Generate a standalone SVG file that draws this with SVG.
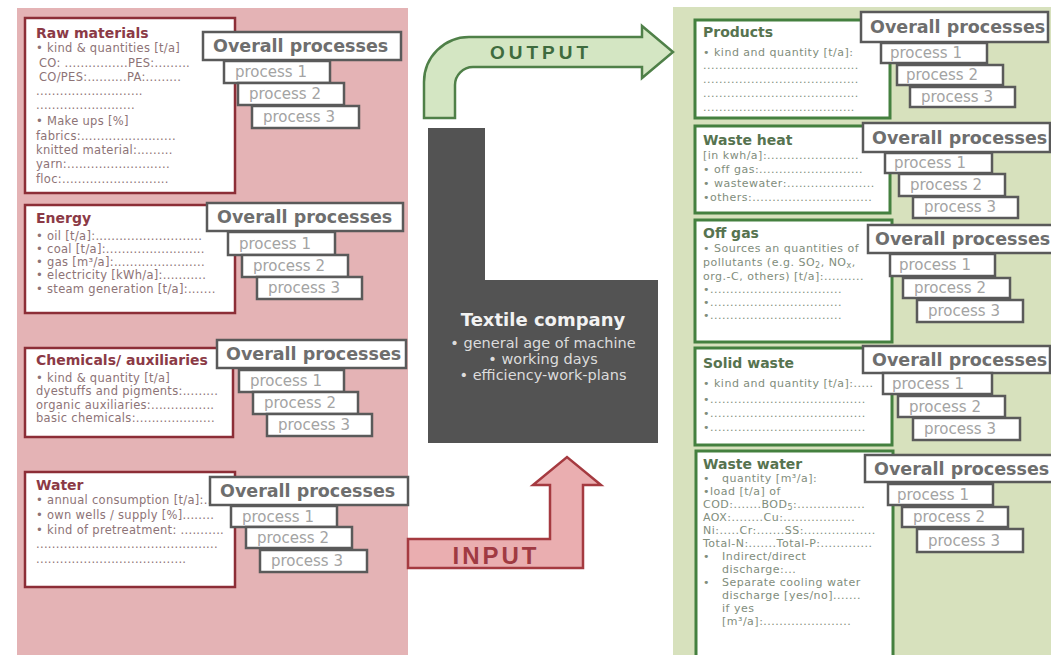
<svg xmlns="http://www.w3.org/2000/svg" width="1051" height="655" viewBox="0 0 1051 655">
<style>
.bg{fill:#fff}
.pk{fill:#e4b3b5}
.gr{fill:#d7e1bd}
.lbox{fill:#fff;stroke:#8c2e37;stroke-width:2.5}
.rbox{fill:#fff;stroke:#44803f;stroke-width:3}
.pb{fill:#fff;stroke:#5a5a5a;stroke-width:2.5}
.ovt{font-family:"DejaVu Sans",sans-serif;font-weight:bold;font-size:17.5px;fill:#6e6e6e}
.prt{font-family:"DejaVu Sans",sans-serif;font-size:15px;fill:#a3a3a3}
.lt{font-family:"DejaVu Sans",sans-serif;font-weight:bold;font-size:14px;fill:#8b3a46}
.rt{font-family:"DejaVu Sans",sans-serif;font-weight:bold;font-size:14px;fill:#56734f}
.lb{font-family:"DejaVu Sans",sans-serif;font-size:11.5px;fill:#8d7376;letter-spacing:0.3px}
.rb{font-family:"DejaVu Sans",sans-serif;font-size:11px;fill:#7f8d7c;letter-spacing:0.5px}
.dark{fill:#535353}
.ct{font-family:"DejaVu Sans",sans-serif;font-weight:bold;font-size:18px;fill:#f2f2f2}
.cb{font-family:"DejaVu Sans",sans-serif;font-size:14.5px;fill:#dcdcdc}
.outA{fill:#d4e6c3;stroke:#4f8048;stroke-width:2.5}
.inA{fill:#eaaeb0;stroke:#a53a40;stroke-width:2.5}
.outT{font-family:"Liberation Sans",sans-serif;font-weight:bold;font-size:19px;fill:#3e6b3e;letter-spacing:4px}
.inT{font-family:"Liberation Sans",sans-serif;font-weight:bold;font-size:24px;fill:#a03a42;letter-spacing:3px}
</style>
<rect class="bg" x="0" y="0" width="1051" height="655"/>
<rect class="pk" x="17" y="8" width="391" height="647"/>
<rect class="gr" x="673" y="7" width="378" height="648"/>

<g id="connectors">
<path class="outA" d="M424,118 V82 A45,45 0 0 1 469,37 H642 V26 L673,52 L642,78 V67 H473 A18,18 0 0 0 455,85 V118 Z"/>
<text class="outT" x="541" y="59" text-anchor="middle">OUTPUT</text>
<path class="inA" d="M408,539 H550 V485 H533 L567,457 L601,485 H583 V568 H408 Z"/>
<text class="inT" x="496" y="564" text-anchor="middle">INPUT</text>
</g>

<g id="textile-company">
<rect class="dark" x="428" y="128" width="57" height="154"/>
<rect class="dark" x="428" y="280" width="230" height="163"/>
<text class="ct" x="543" y="326" text-anchor="middle">Textile company</text>
<text class="cb" x="543" y="348" text-anchor="middle">• general age of machine</text>
<text class="cb" x="543" y="364" text-anchor="middle">• working days</text>
<text class="cb" x="543" y="380" text-anchor="middle">• efficiency-work-plans</text>
</g>

<g id="raw-materials">
<rect class="lbox" x="25" y="18" width="210" height="175"/>
<text class="lt" x="36" y="38">Raw materials</text>
<text class="lb" x="36" y="52">• kind &amp; quantities [t/a]</text>
<text class="lb" x="39" y="67">CO: ................PES:.........</text>
<text class="lb" x="39" y="81">CO/PES:..........PA:.........</text>
<text class="lb" x="36" y="95">...........................</text>
<text class="lb" x="36" y="109">.........................</text>
<text class="lb" x="36" y="125">• Make ups [%]</text>
<text class="lb" x="36" y="140">fabrics:........................</text>
<text class="lb" x="36" y="154">knitted material:.........</text>
<text class="lb" x="36" y="168">yarn:..........................</text>
<text class="lb" x="36" y="183">floc:...........................</text>
<rect class="pb" x="203" y="32" width="198" height="28"/>
<text class="ovt" x="213" y="52">Overall processes</text>
<rect class="pb" x="224" y="61" width="106" height="22"/>
<text class="prt" x="235" y="77">process 1</text>
<rect class="pb" x="238" y="83" width="106" height="22"/>
<text class="prt" x="249" y="99">process 2</text>
<rect class="pb" x="252" y="106" width="107" height="22"/>
<text class="prt" x="263" y="122">process 3</text>
</g>

<g id="energy">
<rect class="lbox" x="25" y="205" width="210" height="108"/>
<text class="lt" x="36" y="223">Energy</text>
<text class="lb" x="36" y="240">• oil [t/a]:...........................</text>
<text class="lb" x="36" y="253">• coal [t/a]:.........................</text>
<text class="lb" x="36" y="266">• gas [m³/a]:.......................</text>
<text class="lb" x="36" y="279">• electricity [kWh/a]:...........</text>
<text class="lb" x="36" y="293">• steam generation  [t/a]:.......</text>
<rect class="pb" x="207" y="203" width="196" height="28"/>
<text class="ovt" x="217" y="223">Overall processes</text>
<rect class="pb" x="228" y="232" width="107" height="23"/>
<text class="prt" x="239" y="249">process 1</text>
<rect class="pb" x="242" y="255" width="106" height="22"/>
<text class="prt" x="253" y="271">process 2</text>
<rect class="pb" x="257" y="277" width="105" height="22"/>
<text class="prt" x="268" y="293">process 3</text>
</g>

<g id="chemicals">
<rect class="lbox" x="25" y="348" width="208" height="89"/>
<text class="lt" x="36" y="365">Chemicals/ auxiliaries</text>
<text class="lb" x="36" y="382">• kind &amp; quantity [t/a]</text>
<text class="lb" x="36" y="395">dyestuffs and pigments:.........</text>
<text class="lb" x="36" y="409">organic auxiliaries:................</text>
<text class="lb" x="36" y="422">basic chemicals:....................</text>
<rect class="pb" x="217" y="340" width="189" height="28"/>
<text class="ovt" x="226" y="360">Overall processes</text>
<rect class="pb" x="239" y="370" width="105" height="22"/>
<text class="prt" x="250" y="386">process 1</text>
<rect class="pb" x="253" y="392" width="105" height="22"/>
<text class="prt" x="264" y="408">process 2</text>
<rect class="pb" x="267" y="414" width="105" height="22"/>
<text class="prt" x="278" y="430">process 3</text>
</g>

<g id="water">
<rect class="lbox" x="25" y="472" width="210" height="115"/>
<text class="lt" x="36" y="490">Water</text>
<text class="lb" x="36" y="504">• annual consumption [t/a]:...</text>
<text class="lb" x="36" y="519">• own wells / supply [%]........</text>
<text class="lb" x="36" y="534">• kind of pretreatment: ...........</text>
<text class="lb" x="36" y="548">..............................................</text>
<text class="lb" x="36" y="563">......................................</text>
<rect class="pb" x="210" y="477" width="198" height="28"/>
<text class="ovt" x="220" y="497">Overall processes</text>
<rect class="pb" x="231" y="506" width="106" height="21"/>
<text class="prt" x="242" y="522">process 1</text>
<rect class="pb" x="246" y="527" width="106" height="21"/>
<text class="prt" x="257" y="543">process 2</text>
<rect class="pb" x="260" y="550" width="107" height="22"/>
<text class="prt" x="271" y="566">process 3</text>
</g>

<g id="products">
<rect class="rbox" x="695" y="20" width="195" height="98"/>
<text class="rt" x="703" y="37">Products</text>
<text class="rb" x="703" y="56">• kind and quantity [t/a]:</text>
<text class="rb" x="703" y="69">.......................................</text>
<text class="rb" x="703" y="83">.......................................</text>
<text class="rb" x="703" y="97">.......................................</text>
<text class="rb" x="703" y="111">......................................</text>
<rect class="pb" x="861" y="12" width="187" height="30"/>
<text class="ovt" x="870" y="33">Overall processes</text>
<rect class="pb" x="881" y="43" width="106" height="20"/>
<text class="prt" x="890" y="58">process 1</text>
<rect class="pb" x="897" y="65" width="106" height="20"/>
<text class="prt" x="906" y="80">process 2</text>
<rect class="pb" x="910" y="87" width="105" height="20"/>
<text class="prt" x="921" y="102">process 3</text>
</g>

<g id="waste-heat">
<rect class="rbox" x="695" y="126" width="195" height="87"/>
<text class="rt" x="703" y="145">Waste heat</text>
<text class="rb" x="703" y="159">[in kwh/a]:.......................</text>
<text class="rb" x="703" y="173">• off gas:..........................</text>
<text class="rb" x="703" y="187">• wastewater:......................</text>
<text class="rb" x="703" y="201">•others:..............................</text>
<rect class="pb" x="863" y="123" width="187" height="29"/>
<text class="ovt" x="872" y="144">Overall processes</text>
<rect class="pb" x="885" y="153" width="107" height="20"/>
<text class="prt" x="894" y="168">process 1</text>
<rect class="pb" x="899" y="174" width="106" height="22"/>
<text class="prt" x="910" y="190">process 2</text>
<rect class="pb" x="913" y="197" width="105" height="21"/>
<text class="prt" x="924" y="212">process 3</text>
</g>

<g id="off-gas">
<rect class="rbox" x="695" y="220" width="197" height="122"/>
<text class="rt" x="703" y="238">Off gas</text>
<text class="rb" x="703" y="252">• Sources an quantities of</text>
<text class="rb" x="703" y="266">pollutants (e.g. SO<tspan font-size="8" dy="2">2</tspan><tspan dy="-2">, NO</tspan><tspan font-size="8" dy="2">x</tspan><tspan dy="-2">,</tspan></text>
<text class="rb" x="703" y="280">org.-C, others) [t/a]:..........</text>
<text class="rb" x="703" y="293">•.................................</text>
<text class="rb" x="703" y="306">•.................................</text>
<text class="rb" x="703" y="319">•.................................</text>
<rect class="pb" x="868" y="225" width="190" height="28"/>
<text class="ovt" x="875" y="245">Overall processes</text>
<rect class="pb" x="890" y="254" width="105" height="22"/>
<text class="prt" x="899" y="270">process 1</text>
<rect class="pb" x="903" y="278" width="107" height="20"/>
<text class="prt" x="914" y="293">process 2</text>
<rect class="pb" x="917" y="300" width="106" height="22"/>
<text class="prt" x="928" y="316">process 3</text>
</g>

<g id="solid-waste">
<rect class="rbox" x="695" y="348" width="197" height="97"/>
<text class="rt" x="703" y="368">Solid waste</text>
<text class="rb" x="703" y="387">• kind and quantity [t/a]:.....</text>
<text class="rb" x="703" y="403">•.......................................</text>
<text class="rb" x="703" y="417">•.......................................</text>
<text class="rb" x="703" y="431">•.......................................</text>
<rect class="pb" x="863" y="346" width="187" height="27"/>
<text class="ovt" x="872" y="366">Overall processes</text>
<rect class="pb" x="883" y="373" width="109" height="21"/>
<text class="prt" x="892" y="389">process 1</text>
<rect class="pb" x="898" y="396" width="107" height="21"/>
<text class="prt" x="909" y="412">process 2</text>
<rect class="pb" x="913" y="418" width="107" height="22"/>
<text class="prt" x="924" y="434">process 3</text>
</g>

<g id="waste-water">
<rect class="rbox" x="696" y="451" width="197" height="212"/>
<text class="rt" x="703" y="469">Waste water</text>
<text class="rb" x="703" y="482">•</text><text class="rb" x="722" y="482">quantity [m³/a]:</text>
<text class="rb" x="703" y="495">•load [t/a] of</text>
<text class="rb" x="703" y="508">COD:.......BOD<tspan font-size="8" dy="2">5</tspan><tspan dy="-2">:.................</tspan></text>
<text class="rb" x="703" y="521">AOX:........Cu:..................</text>
<text class="rb" x="703" y="534">Ni:.....Cr:.......SS:..................</text>
<text class="rb" x="703" y="547">Total-N:.......Total-P:.............</text>
<text class="rb" x="703" y="560">•</text><text class="rb" x="722" y="560">Indirect/direct</text>
<text class="rb" x="722" y="573">discharge:...</text>
<text class="rb" x="703" y="586">•</text><text class="rb" x="722" y="586">Separate cooling water</text>
<text class="rb" x="722" y="599">discharge [yes/no].......</text>
<text class="rb" x="722" y="612">if yes</text>
<text class="rb" x="722" y="625">[m³/a]:......................</text>
<rect class="pb" x="865" y="455" width="190" height="27"/>
<text class="ovt" x="874" y="475">Overall processes</text>
<rect class="pb" x="888" y="484" width="105" height="21"/>
<text class="prt" x="897" y="500">process 1</text>
<rect class="pb" x="902" y="507" width="106" height="20"/>
<text class="prt" x="913" y="522">process 2</text>
<rect class="pb" x="917" y="529" width="106" height="23"/>
<text class="prt" x="928" y="546">process 3</text>
</g>
</svg>
